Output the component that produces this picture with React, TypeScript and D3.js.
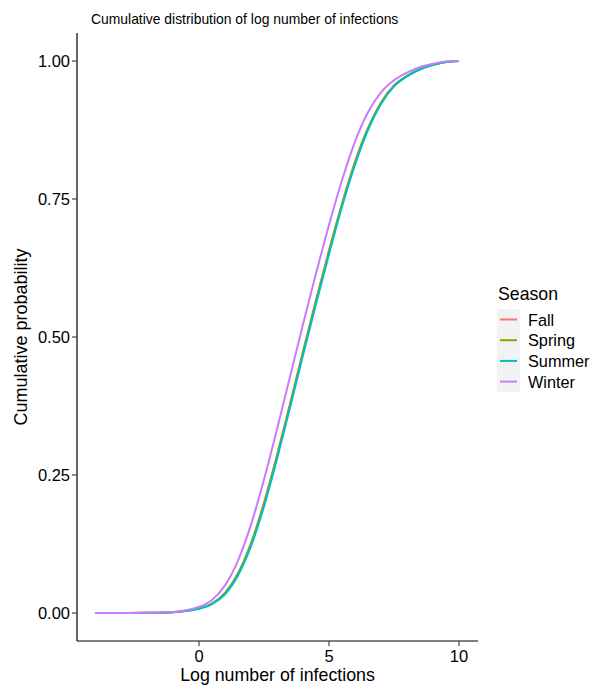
import React from "react";
import * as d3 from "d3";

const xValues = [-4, -3, -2, -1, -0.5, 0, 0.5, 1, 1.5, 2, 2.5, 3, 3.5, 4, 4.5, 5, 5.5, 6, 6.5, 7, 7.5, 8, 8.5, 9, 9.5, 10];
const fall = [0, 0, 0.0004, 0.0015, 0.004, 0.0082, 0.0172, 0.0365, 0.072, 0.127, 0.2, 0.286, 0.379, 0.474, 0.567, 0.657, 0.742, 0.818, 0.879, 0.925, 0.956, 0.973, 0.985, 0.993, 0.998, 1.0];
const spring = [0, 0, 0.0004, 0.0015, 0.004, 0.008, 0.017, 0.036, 0.071, 0.125, 0.198, 0.284, 0.377, 0.472, 0.565, 0.655, 0.74, 0.816, 0.878, 0.924, 0.955, 0.973, 0.985, 0.993, 0.998, 1.0];
const summer = [0, 0, 0.0004, 0.0014, 0.0037, 0.0075, 0.016, 0.034, 0.068, 0.121, 0.193, 0.279, 0.372, 0.467, 0.56, 0.65, 0.736, 0.812, 0.875, 0.922, 0.954, 0.972, 0.985, 0.993, 0.998, 1.0];
const winter = [0, 0, 0.0005, 0.002, 0.005, 0.011, 0.0235, 0.05, 0.095, 0.16, 0.242, 0.333, 0.428, 0.523, 0.615, 0.703, 0.784, 0.854, 0.907, 0.943, 0.965, 0.979, 0.989, 0.995, 0.999, 1.0];

const seasons = ["Fall", "Spring", "Summer", "Winter"];
const seriesValues = [fall, spring, summer, winter];
const colors = ["#F8766D", "#7CAE00", "#00BFC4", "#C77CFF"];
const xTicks = [0, 5, 10];
const yTicks = [0, 0.25, 0.5, 0.75, 1];

const FONT = "'Liberation Sans', Arial, sans-serif";

export default function App() {
  const W = 595, H = 686;
  const left = 77, right = 478, top = 33, bottom = 641;
  const xs = d3.scaleLinear().domain([0, 10]).range([199, 459]);
  const ys = d3.scaleLinear().domain([0, 1]).range([613, 61]);
  const line = d3
    .line<number>()
    .x((_, i) => xs(xValues[i]))
    .y((d) => ys(d))
    .curve(d3.curveMonotoneX);

  return (
    <svg width={W} height={H} style={{ display: "block", position: "absolute", left: 0, top: 0 }} fontFamily={FONT}>
      <rect width={W} height={H} fill="#fff" />
      <text x={91} y={24} fontSize={13.9} fill="#000">
        Cumulative distribution of log number of infections
      </text>
      {seriesValues.map((s, i) => (
        <path key={seasons[i]} d={line(s) || ""} fill="none" stroke={colors[i]} strokeWidth={2} strokeLinecap="butt" />
      ))}
      {/* axes */}
      <line x1={left} x2={left} y1={top} y2={bottom} stroke="#000" strokeWidth={1.2} />
      <line x1={left} x2={right} y1={bottom} y2={bottom} stroke="#000" strokeWidth={1.2} />
      {yTicks.map((t) => (
        <g key={t}>
          <line x1={left - 5} x2={left} y1={ys(t)} y2={ys(t)} stroke="#333" strokeWidth={1.1} />
          <text x={left - 7} y={ys(t) + 6} fontSize={16.5} textAnchor="end" fill="#000">
            {d3.format(".2f")(t)}
          </text>
        </g>
      ))}
      {xTicks.map((t) => (
        <g key={t}>
          <line x1={xs(t)} x2={xs(t)} y1={bottom} y2={bottom + 5} stroke="#333" strokeWidth={1.1} />
          <text x={xs(t)} y={662} fontSize={16.5} textAnchor="middle" fill="#000">
            {t}
          </text>
        </g>
      ))}
      <text x={(left + right) / 2} y={681} fontSize={17.8} textAnchor="middle" fill="#000">
        Log number of infections
      </text>
      <text
        transform={`translate(27, ${(top + bottom) / 2}) rotate(-90)`}
        fontSize={18}
        textAnchor="middle"
        fill="#000"
      >
        Cumulative probability
      </text>
      {/* legend */}
      <text x={498} y={300} fontSize={17.7} fill="#000">
        Season
      </text>
      {seasons.map((s, i) => (
        <g key={s}>
          <rect x={497} y={309 + i * 20.7} width={23} height={20.7} fill="#f2f2f2" />
          <line x1={500} x2={517} y1={319.5 + i * 20.7} y2={319.5 + i * 20.7} stroke={colors[i]} strokeWidth={2} />
          <text x={528} y={325.5 + i * 20.7} fontSize={16.3} fill="#000">
            {s}
          </text>
        </g>
      ))}
    </svg>
  );
}
